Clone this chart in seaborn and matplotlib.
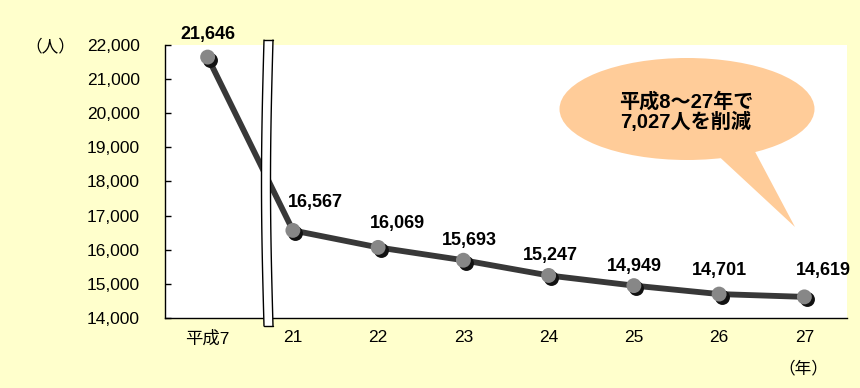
import numpy as np
import pandas as pd
import matplotlib
matplotlib.use("Agg")
import matplotlib.pyplot as plt
import matplotlib.transforms as mtransforms
from matplotlib.patches import Ellipse, Polygon
import seaborn as sns

# Staff headcount by fiscal year (Heisei era)
years = ["平成7", "21", "22", "23", "24", "25", "26", "27"]
staff = [21646, 16567, 16069, 15693, 15247, 14949, 14701, 14619]
y_ticks = [14000, 15000, 16000, 17000, 18000, 19000, 20000, 21000, 22000]
callout = "平成8～27年で\n7,027人を削減"

# label offsets in points (dx, dy) relative to each marker
label_offsets = [(0, 10), (16, 14), (14, 11), (4, 8), (1, 8), (0, 8), (0, 11), (14, 13)]

sns.set_theme(style="white")
plt.rcParams["font.family"] = ["Liberation Sans", "Noto Sans CJK JP", "DejaVu Sans"]
plt.rcParams["text.color"] = "black"
plt.rcParams["xtick.color"] = "black"
plt.rcParams["ytick.color"] = "black"
plt.rcParams["xtick.labelcolor"] = "black"
plt.rcParams["ytick.labelcolor"] = "black"

bg = "#FFFFCC"
fig = plt.figure(figsize=(8.6, 3.88), dpi=100, facecolor=bg)
W, H = 860, 388
ax = fig.add_axes([165 / W, 1 - 318 / H, (847 - 165) / W, (318 - 45) / H])
ax.set_facecolor("white")

df = pd.DataFrame({"x": np.arange(len(years)), "staff": staff})

sns.lineplot(data=df, x="x", y="staff", ax=ax, color="#383838", linewidth=4.2,
             zorder=3, legend=False)

# marker drop shadow
shadow = mtransforms.offset_copy(ax.transData, fig=fig, x=2.5, y=-2.5, units="dots")
ax.scatter(df["x"], df["staff"], s=115, color="#111111", transform=shadow,
           zorder=4, linewidths=0)
sns.scatterplot(data=df, x="x", y="staff", ax=ax, s=115, color="#878787",
                edgecolor="none", zorder=5, legend=False)

for i, (xv, v) in enumerate(zip(df["x"], staff)):
    dx, dy = label_offsets[i]
    ax.annotate(f"{v:,}", (xv, v), xytext=(dx, dy), textcoords="offset points",
                ha="center", va="bottom", fontsize=13, fontweight="bold",
                color="black", zorder=6, annotation_clip=False)

ax.set_xlim(-0.5, len(years) - 0.5)
ax.set_ylim(14000, 22000)
ax.set_yticks(y_ticks)
ax.set_yticklabels([f"{t:,}" for t in y_ticks])
ax.set_xticks(np.arange(len(years)) + 0.5)
ax.set_xticklabels([])
ax.set_xticks(np.arange(len(years)), minor=True)
ax.set_xticklabels(years, minor=True)
ax.tick_params(axis="x", which="major", direction="in", length=4, width=1, color="black")
ax.tick_params(axis="x", which="minor", length=0, pad=9, labelsize=12.5,
               labelcolor="black")
ax.tick_params(axis="y", direction="in", length=4, width=1, color="black",
               labelsize=12.5, pad=18, left=True, labelcolor="black")
ax.set_xlabel("")
ax.set_ylabel("")
for s in ["top", "right"]:
    ax.spines[s].set_visible(False)
for s in ["left", "bottom"]:
    ax.spines[s].set_color("black")
    ax.spines[s].set_linewidth(1)

# axis break marker between 平成7 and 21
yy = np.linspace(40, 326, 60)
wave = -2.5 * np.sin((yy - 40) / (326 - 40) * np.pi)
xl = 264 + wave
xr = 273 + wave
pts = np.concatenate([np.column_stack([xl, yy]), np.column_stack([xr[::-1], yy[::-1]])])
pts_fig = np.column_stack([pts[:, 0] / W, 1 - pts[:, 1] / H])
brk = Polygon(pts_fig, closed=True, transform=fig.transFigure, facecolor="white",
              edgecolor="none", zorder=7)
fig.add_artist(brk)
for xs in (xl, xr):
    fig.add_artist(plt.Line2D(xs / W, 1 - yy / H, transform=fig.transFigure,
                              color="black", linewidth=1, zorder=8))
fig.add_artist(plt.Line2D([xl[0] / W, xr[0] / W], [1 - 40 / H] * 2,
                          transform=fig.transFigure, color="black", linewidth=1, zorder=8))
fig.add_artist(plt.Line2D([xl[-1] / W, xr[-1] / W], [1 - 326 / H] * 2,
                          transform=fig.transFigure, color="black", linewidth=1, zorder=8))

# speech bubble
bubble_color = "#FFCC99"
tail = Polygon([(712 / W, 1 - 150 / H), (752 / W, 1 - 146 / H), (795 / W, 1 - 227 / H)],
               closed=True, transform=fig.transFigure, facecolor=bubble_color,
               edgecolor="none", zorder=9)
fig.add_artist(tail)
ell = Ellipse((687 / W, 1 - 109 / H), 255 / W, 102 / H, transform=fig.transFigure,
              facecolor=bubble_color, edgecolor="none", zorder=9)
fig.add_artist(ell)
fig.text(686 / W, 1 - 112 / H, callout, ha="center", va="center", fontsize=14.5,
         fontweight="bold", linespacing=1.05, zorder=10)

# unit labels
fig.text(50 / W, 1 - 46 / H, "（人）", ha="center", va="center", fontsize=12)
fig.text(803 / W, 1 - 368 / H, "（年）", ha="center", va="center", fontsize=12)

fig.savefig("out.png", dpi=100, facecolor=bg)
